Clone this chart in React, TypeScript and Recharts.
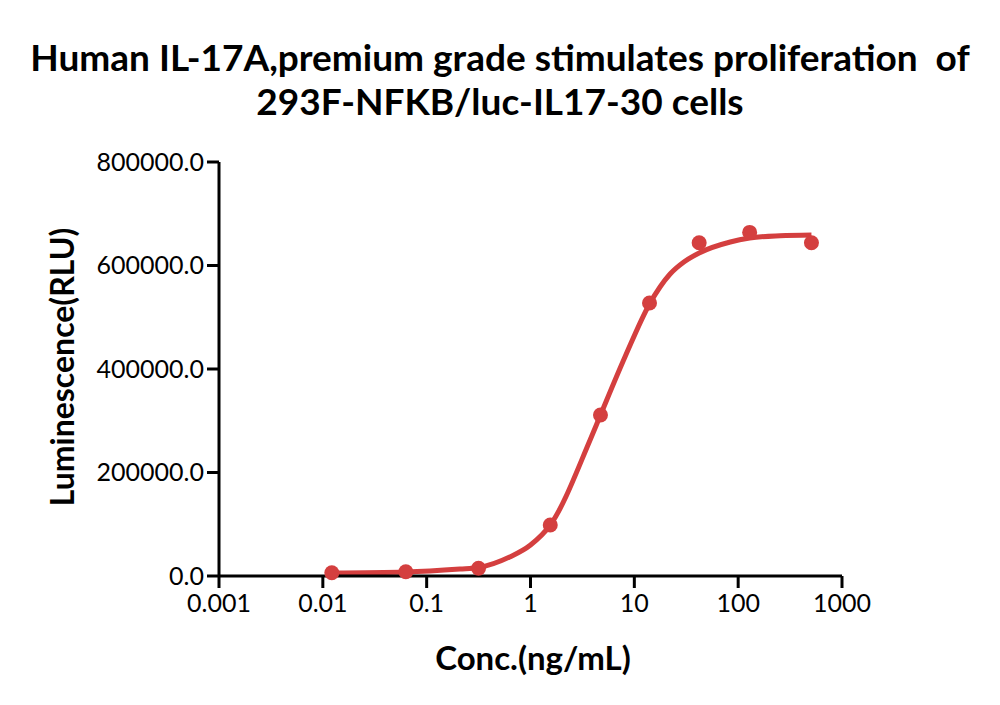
import React from 'react';
import { ComposedChart, Line, Scatter, XAxis, YAxis } from 'recharts';

const concentrations = [0.0122, 0.063, 0.316, 1.55, 4.72, 14.0, 42.1, 129, 508];
const luminescence = [6400, 8300, 14900, 98600, 311000, 527500, 644000, 664000, 644000];

const fitConc = [0.0122, 0.063, 0.209, 0.316, 0.63, 1.0, 1.55, 3.75, 4.72, 8.2, 14.0, 22.1, 30, 42.1, 84, 129, 253, 508];
const fitLum = [5800, 7700, 13500, 16400, 36700, 59900, 98600, 262800, 311000, 425000, 525600, 583600, 606800, 624200, 645400, 653000, 657500, 659000];

const xTicks = [0.001, 0.01, 0.1, 1, 10, 100, 1000];
const xTickLabels = ['0.001', '0.01', '0.1', '1', '10', '100', '1000'];
const yTicks = [0, 200000, 400000, 600000, 800000];

const titleLines = ['Human IL-17A,premium grade stimulates proliferation  of', '293F-NFKB/luc-IL17-30 cells'];
const xLabel = 'Conc.(ng/mL)';
const yLabel = 'Luminescence(RLU)';

const RED = '#d43f3f';
const FONT = 'Lato, "Open Sans", sans-serif';

const points = concentrations.map((x, i) => ({ x, y: luminescence[i] }));
const fit = fitConc.map((x, i) => ({ x, y: fitLum[i] }));

export default function App() {
  return (
    <div style={{ position: 'absolute', left: 0, top: 0, width: 1000, height: 705, background: '#fff', fontFamily: FONT }}>
      {titleLines.map((t, i) => (
        <div
          key={i}
          style={{
            position: 'absolute',
            left: 0,
            width: 1000,
            top: 36 + i * 44,
            textAlign: 'center',
            fontWeight: 700,
            fontSize: 37,
            lineHeight: '42px',
            color: '#000',
            whiteSpace: 'pre',
          }}
        >
          {t}
        </div>
      ))}
      <div
        style={{
          position: 'absolute',
          left: 62 - 200,
          top: 367 - 20,
          width: 400,
          height: 40,
          lineHeight: '40px',
          textAlign: 'center',
          transform: 'rotate(-90deg)',
          fontWeight: 700,
          fontSize: 32,
          color: '#000',
        }}
      >
        {yLabel}
      </div>
      <div
        style={{
          position: 'absolute',
          left: 533 - 200,
          top: 657 - 20,
          width: 400,
          height: 40,
          lineHeight: '40px',
          textAlign: 'center',
          fontWeight: 700,
          fontSize: 33,
          color: '#000',
        }}
      >
        {xLabel}
      </div>
      <div style={{ position: 'absolute', left: 0, top: 0 }}>
        <ComposedChart width={1000} height={705} margin={{ top: 162, right: 158, bottom: 39, left: 0 }}>
          <XAxis
            dataKey="x"
            type="number"
            scale="log"
            domain={[0.001, 1000]}
            ticks={xTicks}
            allowDataOverflow
            height={90}
            tickFormatter={(v: number) => xTickLabels[xTicks.indexOf(v)] ?? String(v)}
            tick={{ fill: '#000', fontSize: 25, fontFamily: FONT }}
            tickSize={12}
            tickMargin={6}
            axisLine={{ stroke: '#000', strokeWidth: 3 }}
            tickLine={{ stroke: '#000', strokeWidth: 3 }}
            interval={0}
          />
          <YAxis
            type="number"
            domain={[0, 800000]}
            ticks={yTicks}
            width={219}
            tickFormatter={(v: number) => v.toFixed(1)}
            tick={{ fill: '#000', fontSize: 25, fontFamily: FONT }}
            tickSize={12}
            tickMargin={3}
            axisLine={{ stroke: '#000', strokeWidth: 3 }}
            tickLine={{ stroke: '#000', strokeWidth: 3 }}
            interval={0}
          />
          <Line
            data={fit}
            dataKey="y"
            type="monotone"
            stroke={RED}
            strokeWidth={5}
            dot={false}
            activeDot={false}
            isAnimationActive={false}
          />
          <Scatter
            data={points}
            dataKey="y"
            fill={RED}
            shape={(p: any) => <circle cx={p.cx} cy={p.cy} r={7.5} fill={RED} />}
            isAnimationActive={false}
          />
        </ComposedChart>
      </div>
    </div>
  );
}
